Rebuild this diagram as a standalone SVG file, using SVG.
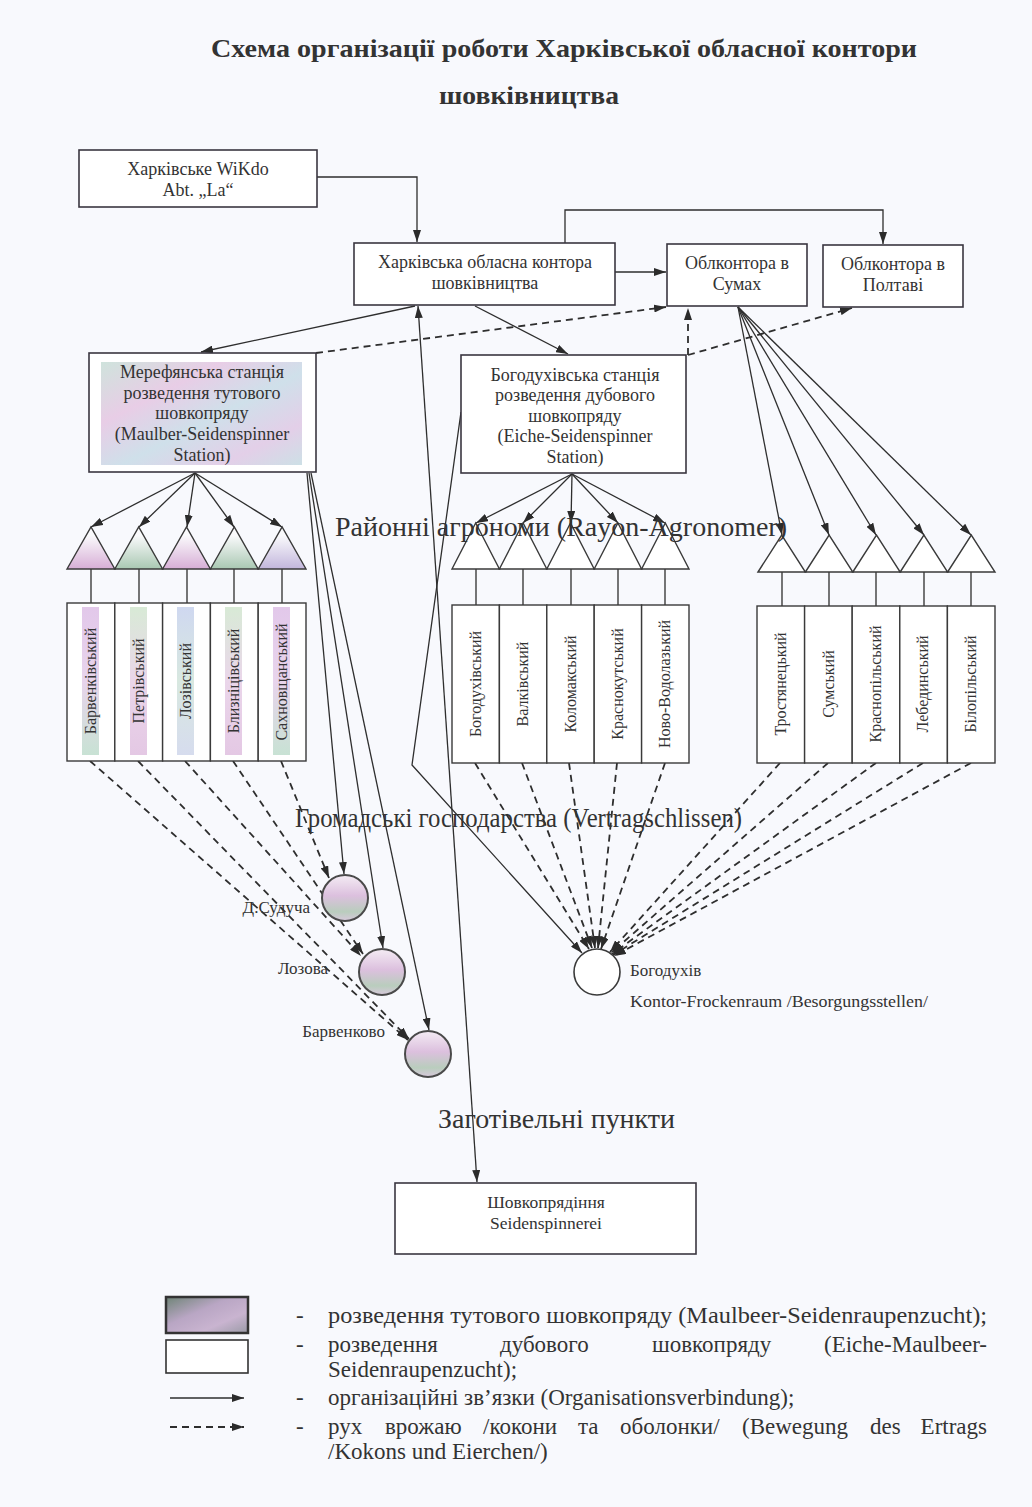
<svg xmlns="http://www.w3.org/2000/svg" width="1032" height="1507" viewBox="0 0 1032 1507">
<defs>
<style>
.t{font-family:"Liberation Serif","Times New Roman",serif;fill:#333}
.box{fill:#fff;stroke:#3a3640;stroke-width:1.6}
.cell{fill:#fff;stroke:#3a3a3a;stroke-width:1.4}
.tri{stroke:#3a3a3a;stroke-width:1.4}
.ln{fill:none;stroke:#2e2e2e;stroke-width:1.3}
.arr{marker-end:url(#ah)}
.dash{stroke-dasharray:7 5;stroke-width:1.8}
.nt{font-size:18px;text-anchor:middle}
.ct{font-size:16px;text-anchor:middle}
.lb{font-size:17px}
.big{font-size:28px}
.lg{font-size:23px}
.circ{stroke:#4a4a4a;stroke-width:2;fill:url(#gc)}
</style>
<marker id="ah" viewBox="0 0 12 8" refX="12" refY="4" markerWidth="12" markerHeight="8" markerUnits="userSpaceOnUse" orient="auto-start-reverse"><path d="M0,0 L12,4 L0,8 z" fill="#2b2b2b"/></marker>
<linearGradient id="gm" x1="0" y1="0" x2="1" y2="1">
<stop offset="0" stop-color="#cfe3dc"/><stop offset="0.3" stop-color="#e8cde6"/><stop offset="0.55" stop-color="#cfe0ea"/><stop offset="0.8" stop-color="#e3cfe8"/><stop offset="1" stop-color="#cde0e6"/>
</linearGradient>
<linearGradient id="gc" x1="0" y1="0" x2="0" y2="1">
<stop offset="0" stop-color="#f4ecf4"/><stop offset="0.45" stop-color="#dcc0de"/><stop offset="0.8" stop-color="#b9cdbd"/><stop offset="1" stop-color="#d8c8dc"/>
</linearGradient>
<linearGradient id="tp" x1="0" y1="0" x2="0" y2="1"><stop offset="0.2" stop-color="#fafafc"/><stop offset="1" stop-color="#d7aed6"/></linearGradient>
<linearGradient id="tg" x1="0" y1="0" x2="0" y2="1"><stop offset="0.2" stop-color="#fafafc"/><stop offset="1" stop-color="#a9c8b2"/></linearGradient>
<linearGradient id="tb" x1="0" y1="0" x2="0" y2="1"><stop offset="0.2" stop-color="#fafafc"/><stop offset="1" stop-color="#c2b6dc"/></linearGradient>
<linearGradient id="s1" x1="0" y1="0" x2="0" y2="1"><stop offset="0" stop-color="#e2c8ea"/><stop offset="0.5" stop-color="#e8d4ec"/><stop offset="1" stop-color="#c8e2d4"/></linearGradient>
<linearGradient id="s2" x1="0" y1="0" x2="0" y2="1"><stop offset="0" stop-color="#d8ead6"/><stop offset="0.5" stop-color="#ead6ea"/><stop offset="1" stop-color="#e4c8e4"/></linearGradient>
<linearGradient id="s3" x1="0" y1="0" x2="0" y2="1"><stop offset="0" stop-color="#cfd8f0"/><stop offset="0.5" stop-color="#d8e8e0"/><stop offset="1" stop-color="#d6dcee"/></linearGradient>
<linearGradient id="gl" x1="0" y1="0" x2="1" y2="1">
<stop offset="0" stop-color="#6e8476"/><stop offset="0.4" stop-color="#b9a6c4"/><stop offset="0.7" stop-color="#c9b4d0"/><stop offset="1" stop-color="#9a9aa6"/>
</linearGradient>
</defs>
<rect x="0" y="0" width="1032" height="1507" fill="#f8f9fd"/>

<g id="title">
<text class="t" x="564" y="57" font-size="26" font-weight="bold" text-anchor="middle" textLength="706" lengthAdjust="spacingAndGlyphs">Схема організації роботи Харківської обласної контори</text>
<text class="t" x="529" y="104" font-size="26" font-weight="bold" text-anchor="middle" textLength="180" lengthAdjust="spacingAndGlyphs">шовківництва</text>
</g>

<g id="connectors">
<path class="ln arr" d="M317,177 H417 V242"/>
<path class="ln arr" d="M615,272 H666"/>
<path class="ln arr" d="M565,243 V210 H883 V244"/>
<path class="ln arr" d="M415,306 L201,352"/>
<path class="ln arr" d="M475,306 L568,354"/>
<path class="ln arr" d="M418,306 L477,1182" marker-start="url(#ah)"/>
<path class="ln dash arr" d="M316,353 L666,307"/>
<path class="ln dash arr" d="M688,355 V308"/>
<path class="ln dash arr" d="M688,355 L852,308"/>
<path class="ln arr" d="M195,473 L91,527"/>
<path class="ln arr" d="M195,473 L139,527"/>
<path class="ln arr" d="M195,473 L187,527"/>
<path class="ln arr" d="M195,473 L234,527"/>
<path class="ln arr" d="M195,473 L282,527"/>
<path class="ln arr" d="M572,474 L476,523"/>
<path class="ln arr" d="M572,474 L523,523"/>
<path class="ln arr" d="M572,474 L571,523"/>
<path class="ln arr" d="M572,474 L618,523"/>
<path class="ln arr" d="M572,474 L665,523"/>
<path class="ln arr" d="M738,307 L782,535"/>
<path class="ln arr" d="M738,307 L829,535"/>
<path class="ln arr" d="M738,307 L876,535"/>
<path class="ln arr" d="M738,307 L924,535"/>
<path class="ln arr" d="M738,307 L971,535"/>
<path class="ln" d="M91,569 V603 M139,569 V603 M187,569 V603 M234,569 V603 M282,569 V603"/>
<path class="ln" d="M476,569 V605 M523,569 V605 M571,569 V605 M618,569 V605 M665,569 V605"/>
<path class="ln" d="M782,572 V606 M829,572 V606 M876,572 V606 M924,572 V606 M971,572 V606"/>
<path class="ln arr" d="M307,473 L344,874"/>
<path class="ln arr" d="M309,473 L383,948"/>
<path class="ln arr" d="M311,473 L429,1030"/>
<path class="ln arr" d="M461,412 L412,765 L582,953"/>
<path class="ln dash arr" d="M90,761 L408,1040"/>
<path class="ln dash arr" d="M138,761 L409,1039"/>
<path class="ln dash arr" d="M185,761 L361,956"/>
<path class="ln dash arr" d="M233,761 L363,954"/>
<path class="ln dash arr" d="M281,761 L329,878"/>
<path class="ln dash arr" d="M475,763 L589,949"/>
<path class="ln dash arr" d="M522,763 L592,948"/>
<path class="ln dash arr" d="M569,763 L595,948"/>
<path class="ln dash arr" d="M617,763 L598,948"/>
<path class="ln dash arr" d="M665,763 L601,949"/>
<path class="ln dash arr" d="M780,763 L610,952"/>
<path class="ln dash arr" d="M828,763 L611,953"/>
<path class="ln dash arr" d="M876,763 L612,954"/>
<path class="ln dash arr" d="M923,763 L613,955"/>
<path class="ln dash arr" d="M971,763 L614,956"/>
</g>

<g id="n-wikdo">
<rect class="box" x="79" y="150" width="238" height="57"/>
<text class="t nt" x="198" y="175">Харківське WiKdo</text>
<text class="t nt" x="198" y="196">Abt. „La“</text>
</g>
<g id="n-kharkiv">
<rect class="box" x="354" y="243" width="261" height="62"/>
<text class="t nt" x="485" y="268">Харківська обласна контора</text>
<text class="t nt" x="485" y="289">шовківництва</text>
</g>
<g id="n-sumy">
<rect class="box" x="667" y="244" width="140" height="62"/>
<text class="t nt" x="737" y="269">Облконтора в</text>
<text class="t nt" x="737" y="290">Сумах</text>
</g>
<g id="n-poltava">
<rect class="box" x="823" y="245" width="140" height="62"/>
<text class="t nt" x="893" y="270">Облконтора в</text>
<text class="t nt" x="893" y="291">Полтаві</text>
</g>
<g id="n-merefa">
<rect class="box" x="89" y="353" width="227" height="119"/>
<rect x="101" y="362" width="201" height="103" fill="url(#gm)"/>
<text class="t nt" x="202" y="378">Мерефянська станція</text>
<text class="t nt" x="202" y="399">розведення тутового</text>
<text class="t nt" x="202" y="419">шовкопряду</text>
<text class="t nt" x="202" y="440">(Maulber-Seidenspinner</text>
<text class="t nt" x="202" y="461">Station)</text>
</g>
<g id="n-bohodukhiv-st">
<rect class="box" x="461" y="355" width="225" height="118"/>
<text class="t nt" x="575" y="381">Богодухівська станція</text>
<text class="t nt" x="575" y="401">розведення дубового</text>
<text class="t nt" x="575" y="422">шовкопряду</text>
<text class="t nt" x="575" y="442">(Eiche-Seidenspinner</text>
<text class="t nt" x="575" y="463">Station)</text>
</g>

<g id="n-barvenkivskyi">
<polygon class="tri" points="67,569 91,527 114.8,569" fill="url(#tp)"/>
<rect class="cell" x="67" y="603" width="47.8" height="158"/>
<rect x="82" y="607" width="17" height="148" fill="url(#s1)"/>
<text class="t ct" transform="translate(91,681) rotate(-90)" y="5">Барвенківський</text>
</g>
<g id="n-petrivskyi">
<polygon class="tri" points="114.8,569 138.7,527 162.6,569" fill="url(#tg)"/>
<rect class="cell" x="114.8" y="603" width="47.8" height="158"/>
<rect x="130" y="607" width="17" height="148" fill="url(#s2)"/>
<text class="t ct" transform="translate(139,681) rotate(-90)" y="5">Петрівський</text>
</g>
<g id="n-lozivskyi">
<polygon class="tri" points="162.6,569 186.5,527 210.4,569" fill="url(#tp)"/>
<rect class="cell" x="162.6" y="603" width="47.8" height="158"/>
<rect x="177" y="607" width="17" height="148" fill="url(#s3)"/>
<text class="t ct" transform="translate(186,681) rotate(-90)" y="5">Лозівський</text>
</g>
<g id="n-blyznitsivskyi">
<polygon class="tri" points="210.4,569 234.3,527 258.2,569" fill="url(#tg)"/>
<rect class="cell" x="210.4" y="603" width="47.8" height="158"/>
<rect x="225" y="607" width="17" height="148" fill="url(#s2)"/>
<text class="t ct" transform="translate(234,681) rotate(-90)" y="5">Близніцівський</text>
</g>
<g id="n-sakhnovshchanskyi">
<polygon class="tri" points="258.2,569 282.1,527 306,569" fill="url(#tb)"/>
<rect class="cell" x="258.2" y="603" width="47.8" height="158"/>
<rect x="273" y="607" width="17" height="148" fill="url(#s1)"/>
<text class="t ct" transform="translate(282,682) rotate(-90)" y="5">Сахновщанський</text>
</g>

<g id="n-bohodukhivskyi">
<polygon class="tri" points="452,569 475.7,523 499.4,569" fill="#fff"/>
<rect class="cell" x="452" y="605" width="47.4" height="158"/>
<text class="t ct" transform="translate(476,684) rotate(-90)" y="5">Богодухівський</text>
</g>
<g id="n-valkivskyi">
<polygon class="tri" points="499.4,569 523.1,523 546.8,569" fill="#fff"/>
<rect class="cell" x="499.4" y="605" width="47.4" height="158"/>
<text class="t ct" transform="translate(523,684) rotate(-90)" y="5">Валківський</text>
</g>
<g id="n-kolomakskyi">
<polygon class="tri" points="546.8,569 570.5,523 594.2,569" fill="#fff"/>
<rect class="cell" x="546.8" y="605" width="47.4" height="158"/>
<text class="t ct" transform="translate(571,684) rotate(-90)" y="5">Коломакський</text>
</g>
<g id="n-krasnokutskyi">
<polygon class="tri" points="594.2,569 617.9,523 641.6,569" fill="#fff"/>
<rect class="cell" x="594.2" y="605" width="47.4" height="158"/>
<text class="t ct" transform="translate(618,684) rotate(-90)" y="5">Краснокутський</text>
</g>
<g id="n-novovodolazkyi">
<polygon class="tri" points="641.6,569 665.3,523 689,569" fill="#fff"/>
<rect class="cell" x="641.6" y="605" width="47.4" height="158"/>
<text class="t ct" transform="translate(665,684) rotate(-90)" y="5">Ново-Водолазький</text>
</g>

<g id="n-trostianetskyi">
<polygon class="tri" points="758,572 781.7,535 805.4,572" fill="#fff"/>
<rect class="cell" x="757" y="606" width="47.6" height="157"/>
<text class="t ct" transform="translate(781,684) rotate(-90)" y="5">Тростянецький</text>
</g>
<g id="n-sumskyi">
<polygon class="tri" points="805.4,572 829.1,535 852.8,572" fill="#fff"/>
<rect class="cell" x="804.6" y="606" width="47.6" height="157"/>
<text class="t ct" transform="translate(829,684) rotate(-90)" y="5">Сумський</text>
</g>
<g id="n-krasnopilskyi">
<polygon class="tri" points="852.8,572 876.5,535 900.2,572" fill="#fff"/>
<rect class="cell" x="852.2" y="606" width="47.6" height="157"/>
<text class="t ct" transform="translate(876,684) rotate(-90)" y="5">Краснопільський</text>
</g>
<g id="n-lebedynskyi">
<polygon class="tri" points="900.2,572 923.9,535 947.6,572" fill="#fff"/>
<rect class="cell" x="899.8" y="606" width="47.6" height="157"/>
<text class="t ct" transform="translate(923,684) rotate(-90)" y="5">Лебединський</text>
</g>
<g id="n-bilopilskyi">
<polygon class="tri" points="947.6,572 971.3,535 995,572" fill="#fff"/>
<rect class="cell" x="947.4" y="606" width="47.6" height="157"/>
<text class="t ct" transform="translate(971,684) rotate(-90)" y="5">Білопільський</text>
</g>

<g id="n-sududucha">
<circle class="circ" cx="345" cy="898" r="23"/>
<text class="t lb" x="310" y="913" text-anchor="end">Д.Судуча</text>
</g>
<g id="n-lozova">
<circle class="circ" cx="382" cy="972" r="23"/>
<text class="t lb" x="328" y="974" text-anchor="end">Лозова</text>
</g>
<g id="n-barvenkovo">
<circle class="circ" cx="428" cy="1054" r="23"/>
<text class="t lb" x="385" y="1037" text-anchor="end">Барвенково</text>
</g>
<g id="n-bohodukhiv">
<circle cx="597" cy="972" r="23" fill="#fff" stroke="#3a3a3a" stroke-width="1.6"/>
<text class="t lb" x="630" y="976">Богодухів</text>
<text class="t lb" x="630" y="1007" textLength="298" lengthAdjust="spacingAndGlyphs">Kontor-Frockenraum /Besorgungsstellen/</text>
</g>
<g id="n-spinnerei">
<rect class="box" x="395" y="1183" width="301" height="71"/>
<text class="t" x="546" y="1208" font-size="17.5" text-anchor="middle">Шовкопрядіння</text>
<text class="t" x="546" y="1229" font-size="17.5" text-anchor="middle">Seidenspinnerei</text>
</g>

<g id="labels">
<text class="t big" x="335" y="536" textLength="452" lengthAdjust="spacingAndGlyphs">Районні агрономи (Rayon-Agronomer)</text>
<text class="t big" x="295" y="827" textLength="447" lengthAdjust="spacingAndGlyphs">Громадські господарства (Vertragschlissen)</text>
<text class="t big" x="438" y="1128" textLength="237" lengthAdjust="spacingAndGlyphs">Заготівельні пункти</text>
</g>

<g id="legend">
<rect x="166" y="1297" width="82" height="36" fill="url(#gl)" stroke="#333" stroke-width="2.5"/>
<rect x="166" y="1340" width="82" height="33" fill="#fff" stroke="#333" stroke-width="1.6"/>
<path class="ln arr" d="M170,1398 H244" stroke-width="1.6"/>
<path class="ln dash arr" d="M170,1427 H244" stroke-dasharray="6 4"/>
<text class="t lg" x="296" y="1323">-</text>
<text class="t lg" x="296" y="1352">-</text>
<text class="t lg" x="296" y="1405">-</text>
<text class="t lg" x="296" y="1434">-</text>
<text class="t lg" x="328" y="1323" textLength="659" lengthAdjust="spacingAndGlyphs">розведення тутового шовкопряду (Maulbeer-Seidenraupenzucht);</text>
<text class="t lg" x="328" y="1352">розведення</text>
<text class="t lg" x="500" y="1352">дубового</text>
<text class="t lg" x="652" y="1352">шовкопряду</text>
<text class="t lg" x="987" y="1352" text-anchor="end">(Eiche-Maulbeer-</text>
<text class="t lg" x="328" y="1377">Seidenraupenzucht);</text>
<text class="t lg" x="328" y="1405">організаційні зв’язки (Organisationsverbindung);</text>
<text class="t lg" x="328" y="1434">рух</text>
<text class="t lg" x="385" y="1434">врожаю</text>
<text class="t lg" x="483" y="1434">/кокони</text>
<text class="t lg" x="578" y="1434">та</text>
<text class="t lg" x="620" y="1434">оболонки/</text>
<text class="t lg" x="742" y="1434">(Bewegung</text>
<text class="t lg" x="870" y="1434">des</text>
<text class="t lg" x="987" y="1434" text-anchor="end">Ertrags</text>
<text class="t lg" x="328" y="1459">/Kokons und Eierchen/)</text>
</g>
</svg>
